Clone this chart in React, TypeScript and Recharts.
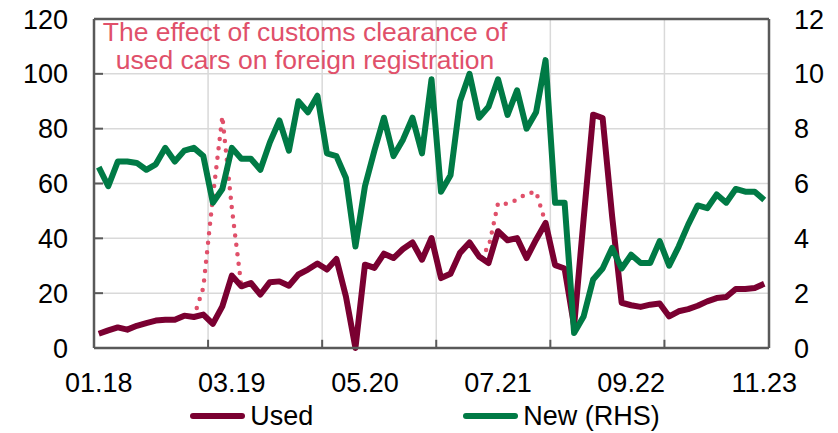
import { LineChart, Line, XAxis, YAxis, CartesianGrid, ReferenceLine, Legend } from 'recharts';

// monthly, 01.18 .. 11.23
const USED = [
  5.2, 6.4, 7.5, 6.7, 8.1, 9.1, 10.0, 10.3, 10.3, 11.8, 11.3, 12.2,
  8.8, 15.2, 26.4, 22.5, 23.7, 19.5, 24.0, 24.3, 22.7, 26.8, 28.6, 30.8,
  28.6, 32.5, 18.8, 0, 30.4, 29.2, 34.4, 32.8, 36.1, 38.5, 32.2, 40.1,
  25.5, 27.1, 34.7, 38.5, 33.4, 31.0, 42.6, 39.3, 40.1, 32.8, 39.5, 45.6,
  30.2, 29.0, 8.0, 47.0, 85.1, 83.9, 48.0, 16.5, 15.6, 15.0, 15.8, 16.2,
  11.5, 13.4, 14.2, 15.4, 17.0, 18.2, 18.6, 21.5, 21.5, 21.9, 23.4,
];

const NEW_RHS = [
  6.6, 5.9, 6.8, 6.8, 6.75, 6.5, 6.7, 7.3, 6.8, 7.2, 7.3, 7.0,
  5.3, 5.8, 7.3, 6.9, 6.9, 6.5, 7.5, 8.3, 7.2, 9.0, 8.6, 9.2,
  7.1, 7.0, 6.2, 3.7, 5.9, 7.2, 8.4, 7.0, 7.6, 8.4, 7.1, 9.8,
  5.7, 6.3, 9.0, 10.0, 8.4, 8.8, 9.8, 8.5, 9.4, 8.0, 8.6, 10.5,
  5.3, 5.3, 0.55, 1.15, 2.5, 2.9, 3.65, 2.9, 3.4, 3.1, 3.1, 3.9,
  3.0, 3.7, 4.5, 5.2, 5.1, 5.6, 5.3, 5.8, 5.7, 5.7, 5.4,
];

// used cars incl. customs clearance effect (dotted), only where it differs
const CUSTOMS = [
  null, null, null, null, null, null, null, null, null, null, 11.3, 22.0,
  55.0, 84.5, 51.0, 22.5, null, null, null, null, null, null, null, null,
  null, null, null, null, null, null, null, null, null, null, null, null,
  null, null, null, null, 33.4, 36.5, 52.9, 52.5, 54.1, 56.3, 57.0, 45.6,
  null, null, null, null, null, null, null, null, null, null, null, null,
  null, null, null, null, null, null, null, null, null, null, null,
];

const TICK_POS = [0, 14, 28, 42, 56, 70];
const TICK_LABELS = ['01.18', '03.19', '05.20', '07.21', '09.22', '11.23'];
const YEAR_BOUNDS = [11.5, 23.5, 35.5, 47.5, 59.5];
const LEFT_TICKS = [0, 20, 40, 60, 80, 100, 120];
const RIGHT_TICKS = [0, 2, 4, 6, 8, 10, 12];

const MAROON = '#7a0031';
const GREEN = '#007a45';
const PINK = '#e0506a';
const AXIS = '#595959';
const GRID = '#d9d9d9';
const FONT = '"Liberation Sans", Arial, sans-serif';

const data = USED.map((u, i) => ({
  i,
  used: u,
  newCars: NEW_RHS[i],
  customs: CUSTOMS[i],
}));

const tickStyle = { fontSize: 27, fill: '#000', fontFamily: FONT };

function LegendContent() {
  const item = (color: string, label: string) => (
    <div style={{ display: 'flex', alignItems: 'center' }}>
      <div style={{ width: 55, height: 6, background: color, borderRadius: 3, marginRight: 5 }} />
      <span>{label}</span>
    </div>
  );
  return (
    <div
      style={{
        display: 'flex',
        justifyContent: 'center',
        alignItems: 'center',
        height: 34,
        paddingLeft: 12,
        gap: 150,
        fontFamily: FONT,
        fontSize: 27,
        color: '#000',
      }}
    >
      {item(MAROON, 'Used')}
      {item(GREEN, 'New (RHS)')}
    </div>
  );
}

export default function App() {
  return (
    <div style={{ position: 'absolute', left: 0, top: 0, width: 838, height: 433, background: '#fff' }}>
      <LineChart width={838} height={433} data={data} margin={{ top: 19, right: 0, bottom: 0, left: 0 }}>
        <CartesianGrid yAxisId="left" vertical={false} stroke={GRID} strokeWidth={1.5} />
        {YEAR_BOUNDS.map((b) => (
          <ReferenceLine key={`g${b}`} x={b} yAxisId="left" stroke={GRID} strokeWidth={1.5} />
        ))}
        <XAxis
          dataKey="i"
          type="number"
          domain={[-0.5, 70.5]}
          ticks={TICK_POS}
          tickFormatter={(v: number) => TICK_LABELS[TICK_POS.indexOf(v)] ?? ''}
          interval={0}
          height={51}
          tickLine={false}
          tickSize={0}
          tickMargin={25}
          axisLine={{ stroke: AXIS, strokeWidth: 2.5 }}
          tick={tickStyle}
        />
        <YAxis
          yAxisId="left"
          domain={[0, 120]}
          ticks={LEFT_TICKS}
          width={94}
          tickSize={-9}
          tickMargin={35}
          tickLine={{ stroke: AXIS, strokeWidth: 2 }}
          axisLine={{ stroke: AXIS, strokeWidth: 2.5 }}
          tick={tickStyle}
        />
        <YAxis
          yAxisId="right"
          orientation="right"
          domain={[0, 12]}
          ticks={RIGHT_TICKS}
          width={69}
          tickSize={0}
          tickMargin={25}
          tickLine={false}
          axisLine={{ stroke: AXIS, strokeWidth: 2.5 }}
          tick={tickStyle}
        />
        {YEAR_BOUNDS.map((b) => (
          <ReferenceLine
            key={`t${b}`}
            yAxisId="left"
            segment={[{ x: b, y: 0 }, { x: b, y: 3 }]}
            stroke={AXIS}
            strokeWidth={2}
          />
        ))}
        <ReferenceLine y={120} yAxisId="left" stroke={AXIS} strokeWidth={2.5} />
        <Line
          yAxisId="left"
          dataKey="customs"
          stroke={PINK}
          strokeWidth={4.5}
          strokeDasharray="0 9.5"
          strokeLinecap="round"
          dot={false}
          connectNulls={false}
          isAnimationActive={false}
          legendType="none"
        />
        <Line
          yAxisId="left"
          dataKey="used"
          name="Used"
          stroke={MAROON}
          strokeWidth={6}
          strokeLinejoin="round"
          dot={false}
          isAnimationActive={false}
        />
        <Line
          yAxisId="right"
          dataKey="newCars"
          name="New (RHS)"
          stroke={GREEN}
          strokeWidth={6}
          strokeLinejoin="round"
          dot={false}
          isAnimationActive={false}
        />
        <Legend verticalAlign="bottom" height={34} content={<LegendContent />} />
      </LineChart>
      <div
        style={{
          position: 'absolute',
          left: 75,
          top: 18,
          width: 460,
          textAlign: 'center',
          whiteSpace: 'nowrap',
          color: PINK,
          fontFamily: FONT,
          fontSize: 26.5,
          lineHeight: '28.3px',
          pointerEvents: 'none',
        }}
      >
        The effect of customs clearance of
        <br />
        used cars on foreign registration
      </div>
    </div>
  );
}
